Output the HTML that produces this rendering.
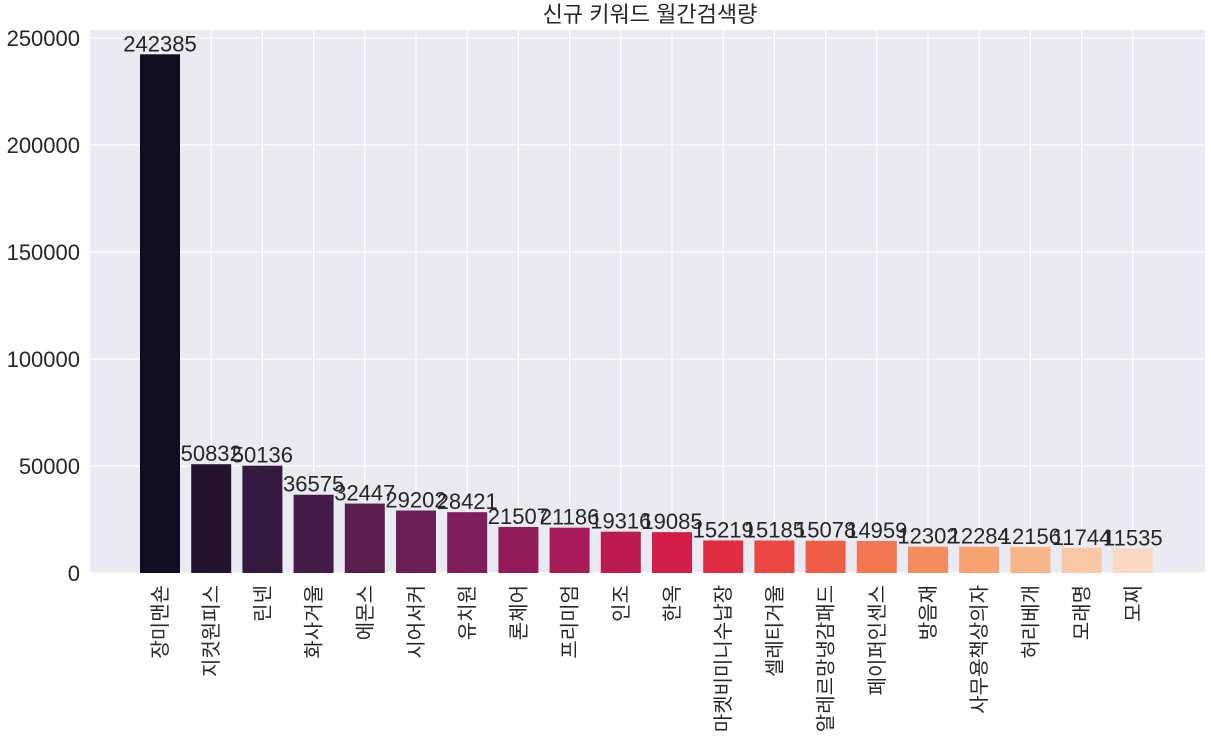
<!DOCTYPE html>
<html><head><meta charset="utf-8"><style>
body{margin:0;background:#fff;}
text{font-family:"Liberation Sans","Noto Sans CJK KR",sans-serif;fill:#262626;}
</style></head><body>
<svg id="chart" width="1211" height="738">
<rect x="90" y="30" width="1115" height="543" fill="#eaeaf2"/>
<g id="grid"></g><g id="bars"></g><g id="labels"></g><g id="xt"></g><g id="yt"></g>
<text x="650" y="22" font-size="22" text-anchor="middle">신규 키워드 월간검색량</text>
</svg>
<script>
const categories=["장미맨숀","지컷원피스","린넨","화사거울","에몬스","시어서커","유치원","론체어","프리미엄","인조","한옥","마켓비미니수납장","셀레티거울","알레르망냉감패드","페이퍼인센스","방음재","사무용책상의자","허리베개","모래명","모찌"];
const values=[242385,50832,50136,36575,32447,29202,28421,21507,21186,19316,19085,15219,15185,15078,14959,12302,12284,12156,11744,11535];
const yTicks=[0,50000,100000,150000,200000,250000];
const colors=["#120d22","#24132f","#331a3e","#451c47","#5a1e4f","#6b1f55","#7e1e5a","#921c5b","#a71b58","#bc1b51","#d21d49","#e12d42","#eb4740","#f05e45","#f3764f","#f58c5e","#f6a273","#f7b68a","#f8c8a6","#f9d9c1"];
const NS="http://www.w3.org/2000/svg";
function y(v){return 573-v*(535/250000);}
function x(i){return 160+i*51.2;}
function mk(t,a,p){const e=document.createElementNS(NS,t);for(const k in a)e.setAttribute(k,a[k]);document.getElementById(p).appendChild(e);return e;}
yTicks.forEach(v=>{
 const l=mk("line",{x1:90,x2:1205,y1:y(v),y2:y(v),stroke:"#fff","stroke-width":1.2},"grid");
 
 
 const t=mk("text",{x:80,y:y(v)+8,"font-size":22,"text-anchor":"end"},"yt");
 t.textContent=v;
 
 
});
categories.forEach((c,i)=>{
 const g=mk("line",{x1:x(i),x2:x(i),y1:30,y2:573,stroke:"#fff","stroke-width":1.2},"grid");
 
 
 const b=mk("rect",{x:x(i)-20,y:y(values[i]),width:40,height:573-y(values[i]),fill:colors[i]},"bars");
 
 
 const t=mk("text",{x:x(i),y:y(values[i])-3,"font-size":22,"text-anchor":"middle"},"labels");
 t.textContent=values[i];
 
 
 const xt=mk("text",{x:0,y:0,"font-size":20,"text-anchor":"end",transform:`translate(${x(i)+7},585) rotate(-90)`},"xt");
 xt.textContent=c;
 
 
});
</script>
</body></html>
